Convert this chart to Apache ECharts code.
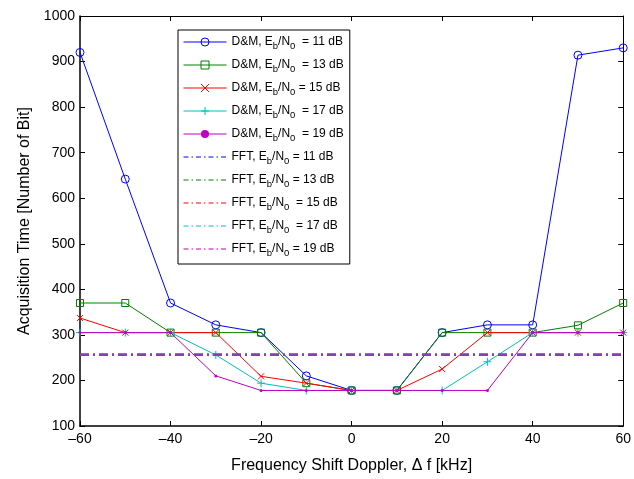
<!DOCTYPE html>
<html>
<head>
<meta charset="utf-8">
<script src="https://cdn.jsdelivr.net/npm/echarts@6/dist/echarts.min.js"></script>
<style>html,body{margin:0;padding:0;background:#fff}#c{width:634px;height:479px}</style>
</head>
<body>
<div id="c"></div>
<script>
var freq = [-60, -50, -40, -30, -20, -10, 0, 10, 20, 30, 40, 50, 60];
var dm11 = [920, 642, 370, 322, 305, 210, 178, 178, 305, 322, 322, 914, 930];
var dm13 = [370, 370, 305, 305, 305, 194, 178, 178, 305, 305, 305, 321, 370];
var dm15 = [337, 305, 305, 305, 209, 194, 178, 178, 225, 305, 305, 305, 305];
var dm17 = [305, 305, 305, 256, 194, 178, 178, 178, 178, 241, 305, 305, 305];
var dm19 = [305, 305, 305, 210, 178, 178, 178, 178, 178, 178, 305, 305, 305];
var fftLevels = [256, 256, 256, 256, 256];
var ebn0 = ['11', '13', '15', '17', '19'];
var xTicks = [-60, -40, -20, 0, 20, 40, 60];
var yTicks = [100, 200, 300, 400, 500, 600, 700, 800, 900, 1000];

var colors = ['#0000ff', '#008000', '#ff0000', '#00bfbf', '#bf00bf'];
var fftTopColor = '#8c3cb4';
var dmData = [dm11, dm13, dm15, dm17, dm19];
var symbols = [
  'circle',
  'rect',
  'path://M0,0L10,10M10,0L0,10',
  'path://M5,0L5,10M0,5L10,5',
  'circle'
];
var symSizes = [8, 7, 6, 8, 3];
var hollow = [true, true, true, true, false];
var dmGap = [true, true, false, true, true];
var fftGap = [false, false, true, true, false];

function pairs(arr) { return freq.map(function (f, i) { return [f, arr[i]]; }); }

var series = [];
var legendData = [];
for (var i = 0; i < 5; i++) {
  var nm = 'D&M, Eb/N0' + (dmGap[i] ? '  ' : ' ') + '= ' + ebn0[i] + ' dB';
  var ist = hollow[i] ? { color: 'rgba(255,255,255,0)', borderColor: colors[i], borderWidth: 1 } :
      { color: colors[i], borderColor: colors[i], borderWidth: 0 };
  series.push({
    name: nm, type: 'line', xAxisIndex: 0, yAxisIndex: 0,
    data: pairs(dmData[i]),
    symbol: symbols[i], symbolSize: symSizes[i], showSymbol: true,
    lineStyle: { color: colors[i], width: 1 },
    itemStyle: ist,
    emphasis: { disabled: true }, animation: false, z: 2 + i
  });
  legendData.push({ name: nm, lineStyle: { color: colors[i], width: 1 }, itemStyle: ist });
}
for (var j = 0; j < 5; j++) {
  var nm2 = 'FFT, Eb/N0' + (fftGap[j] ? '  ' : ' ') + '= ' + ebn0[j] + ' dB';
  var lc = (j === 4) ? fftTopColor : colors[j];
  series.push({
    name: nm2, type: 'line', xAxisIndex: 0, yAxisIndex: 0,
    data: [[freq[0], fftLevels[j]], [freq[freq.length - 1], fftLevels[j]]],
    showSymbol: false, symbol: 'none',
    lineStyle: { color: lc, width: 2.2, type: [9, 4, 2, 4] },
    itemStyle: { color: lc },
    emphasis: { disabled: true }, animation: false, z: 10 + j
  });
  legendData.push({ name: nm2, lineStyle: { color: colors[j], width: 1, type: [5, 3, 1.5, 3] },
    itemStyle: { color: 'rgba(0,0,0,0)', borderWidth: 0, opacity: 0 } });
}

function fmt(v) { return String(v).replace('-', '\u2013'); }

var font = 'Liberation Sans, Arial, Helvetica, sans-serif';
var option = {
  backgroundColor: '#fff',
  textStyle: { fontFamily: font },
  grid: { left: 80, right: 5, top: 16, bottom: 52, show: false },
  legend: {
    data: legendData, orient: 'vertical', left: 178, top: 30,
    backgroundColor: '#fff', borderColor: '#000', borderWidth: 1,
    padding: [6, 6, 6, 5], itemWidth: 43, itemHeight: 10, itemGap: 8,
    selectedMode: false,
    textStyle: {
      fontFamily: font, fontSize: 12, color: '#000',
      rich: {
        a: { fontSize: 12, fontFamily: font, color: '#000' },
        s: { fontSize: 9.5, fontFamily: font, color: '#000', padding: [8, 0, 0, 0] }
      }
    },
    formatter: function (name) {
      var m = name.match(/^(.*), Eb\/N0(.*)$/);
      return '{a|' + m[1] + ', E}{s|b}{a|/N}{s|0}{a|' + m[2] + '}';
    }
  },
  xAxis: [{
    type: 'value', min: -60, max: 60, interval: 20, position: 'bottom',
    name: 'Frequency Shift Doppler, \u0394 f [kHz]', nameLocation: 'middle', nameGap: 32,
    nameTextStyle: { fontSize: 16, color: '#000', fontFamily: font },
    axisLine: { show: true, onZero: false, lineStyle: { color: '#000', width: 1.5 } },
    axisTick: { show: true, inside: true, length: 5, lineStyle: { color: '#000' } },
    axisLabel: { fontSize: 14, color: '#000', margin: 6, fontFamily: font, formatter: fmt,
      customValues: xTicks },
    splitLine: { show: false }
  }, {
    type: 'value', min: -60, max: 60, interval: 20, position: 'top',
    axisLine: { show: true, onZero: false, lineStyle: { color: '#000', width: 1 } },
    axisTick: { show: true, inside: true, length: 5, lineStyle: { color: '#000' } },
    axisLabel: { show: false }, splitLine: { show: false }
  }],
  yAxis: [{
    type: 'value', min: 100, max: 1000, interval: 100, position: 'left',
    name: 'Acquisition Time [Number of Bit]', nameLocation: 'middle', nameGap: 35,
    nameTextStyle: { fontSize: 16, color: '#000', fontFamily: font },
    axisLine: { show: true, onZero: false, lineStyle: { color: '#000', width: 1.5 } },
    axisTick: { show: true, inside: true, length: 5, lineStyle: { color: '#000' } },
    axisLabel: { fontSize: 14, color: '#000', margin: 5, fontFamily: font, customValues: yTicks,
      formatter: function (v) { return String(v); } },
    splitLine: { show: false }
  }, {
    type: 'value', min: 100, max: 1000, interval: 100, position: 'right',
    axisLine: { show: true, onZero: false, lineStyle: { color: '#000', width: 1 } },
    axisTick: { show: true, inside: true, length: 5, lineStyle: { color: '#000' } },
    axisLabel: { show: false }, splitLine: { show: false }
  }],
  series: series
};
var chart = echarts.init(document.getElementById('c'), null, { renderer: 'canvas' });
chart.setOption(option);
</script>
</body>
</html>
